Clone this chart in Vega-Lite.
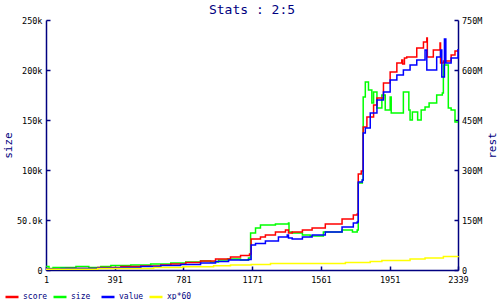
{
  "$schema": "https://vega.github.io/schema/vega-lite/v6.json",
  "autosize": {"type": "none"},
  "padding": {"left": 46, "top": 20, "right": 42, "bottom": 30},
  "width": 412,
  "height": 250,
  "background": "#ffffff",
  "title": {"text": "Stats : 2:5", "color": "#000080", "fontSize": 13, "font": "DejaVu Sans Mono", "fontWeight": "normal", "offset": 6, "dy": 7, "anchor": "middle"},
  "config": {
    "view": {"stroke": null},
    "font": "DejaVu Sans Mono",
    "axis": {"grid": false, "domainColor": "#000080", "domainWidth": 1.5, "tickColor": "#000080", "tickWidth": 1.5, "tickSize": -4, "labelColor": "#000000", "labelFont": "DejaVu Sans Mono", "labelFontSize": 8.5, "labelFlush": false, "labelOverlap": false, "titleFont": "DejaVu Sans Mono", "titleFontSize": 11, "titleFontWeight": "normal", "titleColor": "#000080"},
    "legend": {"orient": "none", "legendX": -42, "legendY": 269, "direction": "horizontal", "columns": 4, "gridAlign": "all", "symbolType": "stroke", "symbolStrokeWidth": 2.5, "symbolSize": 169, "labelFont": "DejaVu Sans Mono", "labelFontSize": 8, "labelColor": "#000080", "labelOffset": 3, "columnPadding": 0, "padding": 0}
  },
  "data": {"values": [
    {"s": "score", "x": 1, "v": 3000000},
    {"s": "score", "x": 114, "v": 4500000},
    {"s": "score", "x": 295, "v": 7500000},
    {"s": "score", "x": 426, "v": 10500000},
    {"s": "score", "x": 539, "v": 12000000},
    {"s": "score", "x": 652, "v": 15000000},
    {"s": "score", "x": 709, "v": 18000000},
    {"s": "score", "x": 794, "v": 22500000},
    {"s": "score", "x": 878, "v": 27000000},
    {"s": "score", "x": 963, "v": 33000000},
    {"s": "score", "x": 1048, "v": 39000000},
    {"s": "score", "x": 1105, "v": 43500000},
    {"s": "score", "x": 1156, "v": 48000000},
    {"s": "score", "x": 1165, "v": 93000000},
    {"s": "score", "x": 1218, "v": 99000000},
    {"s": "score", "x": 1246, "v": 105000000},
    {"s": "score", "x": 1303, "v": 114000000},
    {"s": "score", "x": 1360, "v": 120000000},
    {"s": "score", "x": 1377, "v": 111000000},
    {"s": "score", "x": 1398, "v": 114000000},
    {"s": "score", "x": 1456, "v": 120000000},
    {"s": "score", "x": 1511, "v": 126000000},
    {"s": "score", "x": 1586, "v": 138000000},
    {"s": "score", "x": 1681, "v": 153000000},
    {"s": "score", "x": 1745, "v": 165000000},
    {"s": "score", "x": 1767, "v": 168000000},
    {"s": "score", "x": 1773, "v": 288000000},
    {"s": "score", "x": 1790, "v": 297000000},
    {"s": "score", "x": 1801, "v": 429000000},
    {"s": "score", "x": 1822, "v": 459000000},
    {"s": "score", "x": 1860, "v": 495000000},
    {"s": "score", "x": 1879, "v": 516000000},
    {"s": "score", "x": 1916, "v": 561000000},
    {"s": "score", "x": 1954, "v": 594000000},
    {"s": "score", "x": 1992, "v": 621000000},
    {"s": "score", "x": 2020, "v": 630000000},
    {"s": "score", "x": 2025, "v": 618000000},
    {"s": "score", "x": 2035, "v": 636000000},
    {"s": "score", "x": 2048, "v": 639000000},
    {"s": "score", "x": 2105, "v": 666000000},
    {"s": "score", "x": 2143, "v": 684000000},
    {"s": "score", "x": 2162, "v": 696000000},
    {"s": "score", "x": 2165, "v": 639000000},
    {"s": "score", "x": 2199, "v": 660000000},
    {"s": "score", "x": 2237, "v": 681000000},
    {"s": "score", "x": 2240, "v": 621000000},
    {"s": "score", "x": 2256, "v": 627000000},
    {"s": "score", "x": 2300, "v": 645000000},
    {"s": "score", "x": 2322, "v": 657000000},
    {"s": "score", "x": 2339, "v": 654000000},
    {"s": "size", "x": 1, "v": 3500},
    {"s": "size", "x": 18, "v": 1500},
    {"s": "size", "x": 41, "v": 2500},
    {"s": "size", "x": 171, "v": 3500},
    {"s": "size", "x": 244, "v": 2500},
    {"s": "size", "x": 312, "v": 3500},
    {"s": "size", "x": 369, "v": 4500},
    {"s": "size", "x": 482, "v": 5000},
    {"s": "size", "x": 595, "v": 6000},
    {"s": "size", "x": 709, "v": 7000},
    {"s": "size", "x": 794, "v": 8000},
    {"s": "size", "x": 878, "v": 9000},
    {"s": "size", "x": 935, "v": 8000},
    {"s": "size", "x": 980, "v": 10000},
    {"s": "size", "x": 1031, "v": 11000},
    {"s": "size", "x": 1105, "v": 10000},
    {"s": "size", "x": 1150, "v": 12000},
    {"s": "size", "x": 1162, "v": 37000},
    {"s": "size", "x": 1190, "v": 42000},
    {"s": "size", "x": 1218, "v": 45000},
    {"s": "size", "x": 1303, "v": 46000},
    {"s": "size", "x": 1377, "v": 47000},
    {"s": "size", "x": 1380, "v": 38000},
    {"s": "size", "x": 1398, "v": 37000},
    {"s": "size", "x": 1456, "v": 35000},
    {"s": "size", "x": 1500, "v": 34000},
    {"s": "size", "x": 1575, "v": 38000},
    {"s": "size", "x": 1681, "v": 40000},
    {"s": "size", "x": 1740, "v": 38000},
    {"s": "size", "x": 1767, "v": 40000},
    {"s": "size", "x": 1773, "v": 87000},
    {"s": "size", "x": 1796, "v": 90000},
    {"s": "size", "x": 1801, "v": 173000},
    {"s": "size", "x": 1813, "v": 188000},
    {"s": "size", "x": 1831, "v": 180000},
    {"s": "size", "x": 1850, "v": 167000},
    {"s": "size", "x": 1860, "v": 178000},
    {"s": "size", "x": 1879, "v": 162000},
    {"s": "size", "x": 1907, "v": 175000},
    {"s": "size", "x": 1926, "v": 160000},
    {"s": "size", "x": 1954, "v": 173000},
    {"s": "size", "x": 1960, "v": 157000},
    {"s": "size", "x": 2020, "v": 157000},
    {"s": "size", "x": 2029, "v": 178000},
    {"s": "size", "x": 2058, "v": 178000},
    {"s": "size", "x": 2060, "v": 160000},
    {"s": "size", "x": 2067, "v": 150000},
    {"s": "size", "x": 2080, "v": 158000},
    {"s": "size", "x": 2110, "v": 150000},
    {"s": "size", "x": 2130, "v": 160000},
    {"s": "size", "x": 2152, "v": 163000},
    {"s": "size", "x": 2175, "v": 167000},
    {"s": "size", "x": 2218, "v": 175000},
    {"s": "size", "x": 2250, "v": 177000},
    {"s": "size", "x": 2256, "v": 205000},
    {"s": "size", "x": 2284, "v": 162000},
    {"s": "size", "x": 2300, "v": 160000},
    {"s": "size", "x": 2322, "v": 148000},
    {"s": "size", "x": 2339, "v": 148000},
    {"s": "value", "x": 1, "v": 3000000},
    {"s": "value", "x": 86, "v": 4500000},
    {"s": "value", "x": 295, "v": 6000000},
    {"s": "value", "x": 426, "v": 7500000},
    {"s": "value", "x": 539, "v": 10500000},
    {"s": "value", "x": 652, "v": 13500000},
    {"s": "value", "x": 765, "v": 16500000},
    {"s": "value", "x": 878, "v": 21000000},
    {"s": "value", "x": 963, "v": 25500000},
    {"s": "value", "x": 1037, "v": 30000000},
    {"s": "value", "x": 1150, "v": 31500000},
    {"s": "value", "x": 1165, "v": 75000000},
    {"s": "value", "x": 1190, "v": 79500000},
    {"s": "value", "x": 1246, "v": 87000000},
    {"s": "value", "x": 1320, "v": 99000000},
    {"s": "value", "x": 1370, "v": 105000000},
    {"s": "value", "x": 1377, "v": 96000000},
    {"s": "value", "x": 1398, "v": 93000000},
    {"s": "value", "x": 1456, "v": 99000000},
    {"s": "value", "x": 1511, "v": 105000000},
    {"s": "value", "x": 1586, "v": 114000000},
    {"s": "value", "x": 1681, "v": 129000000},
    {"s": "value", "x": 1745, "v": 141000000},
    {"s": "value", "x": 1767, "v": 144000000},
    {"s": "value", "x": 1773, "v": 264000000},
    {"s": "value", "x": 1796, "v": 270000000},
    {"s": "value", "x": 1801, "v": 411000000},
    {"s": "value", "x": 1813, "v": 426000000},
    {"s": "value", "x": 1841, "v": 471000000},
    {"s": "value", "x": 1879, "v": 510000000},
    {"s": "value", "x": 1916, "v": 534000000},
    {"s": "value", "x": 1954, "v": 570000000},
    {"s": "value", "x": 1992, "v": 585000000},
    {"s": "value", "x": 2029, "v": 600000000},
    {"s": "value", "x": 2067, "v": 615000000},
    {"s": "value", "x": 2105, "v": 630000000},
    {"s": "value", "x": 2152, "v": 660000000},
    {"s": "value", "x": 2162, "v": 600000000},
    {"s": "value", "x": 2218, "v": 639000000},
    {"s": "value", "x": 2240, "v": 660000000},
    {"s": "value", "x": 2247, "v": 579000000},
    {"s": "value", "x": 2262, "v": 693000000},
    {"s": "value", "x": 2270, "v": 621000000},
    {"s": "value", "x": 2300, "v": 636000000},
    {"s": "value", "x": 2339, "v": 663000000},
    {"s": "xp*60", "x": 1, "v": 2100000},
    {"s": "xp*60", "x": 295, "v": 4500000},
    {"s": "xp*60", "x": 612, "v": 7500000},
    {"s": "xp*60", "x": 777, "v": 9900000},
    {"s": "xp*60", "x": 952, "v": 12900000},
    {"s": "xp*60", "x": 1048, "v": 15000000},
    {"s": "xp*60", "x": 1165, "v": 16500000},
    {"s": "xp*60", "x": 1275, "v": 19500000},
    {"s": "xp*60", "x": 1700, "v": 22500000},
    {"s": "xp*60", "x": 1841, "v": 25500000},
    {"s": "xp*60", "x": 1907, "v": 28500000},
    {"s": "xp*60", "x": 2067, "v": 33000000},
    {"s": "xp*60", "x": 2152, "v": 36000000},
    {"s": "xp*60", "x": 2256, "v": 40500000},
    {"s": "xp*60", "x": 2339, "v": 42000000}
  ]},
  "encoding": {
    "x": {"field": "x", "type": "quantitative", "scale": {"domain": [1, 2339], "nice": false, "zero": false},
      "axis": {"title": null, "values": [1, 391, 781, 1171, 1561, 1951, 2339], "labelPadding": 9, "format": "d"}},
    "color": {"field": "s", "type": "nominal",
      "scale": {"domain": ["score", "size", "value", "xp*60"], "range": ["#ff0000", "#00ff00", "#0000ff", "#ffff00"]},
      "legend": {"title": null}}
  },
  "layer": [
    {
      "transform": [{"filter": "datum.s == 'size'"}],
      "mark": {"type": "line", "interpolate": "step-after", "strokeWidth": 1.5},
      "encoding": {
        "y": {"field": "v", "type": "quantitative", "scale": {"domain": [0, 250000], "nice": false},
          "axis": {"orient": "left", "title": "size", "values": [0, 50000, 100000, 150000, 200000, 250000], "labelExpr": "datum.value == 0 ? '0' : format(datum.value, '.3s')", "labelPadding": 8, "titleAngle": 270, "titleBaseline": "middle", "titleX": -38, "titleY": 125, "titleAlign": "center"}}
      }
    },
    {
      "transform": [{"filter": "datum.s != 'size'"}],
      "mark": {"type": "line", "interpolate": "step-after", "strokeWidth": 1.5},
      "encoding": {
        "y": {"field": "v", "type": "quantitative", "scale": {"domain": [0, 750000000], "nice": false},
          "axis": {"orient": "right", "title": "rest", "values": [0, 150000000, 300000000, 450000000, 600000000, 750000000], "labelExpr": "datum.value == 0 ? '0' : format(datum.value, '.3s')", "labelPadding": 7.5, "titleAngle": 270, "titleBaseline": "middle", "titleX": 34, "titleY": 125, "titleAlign": "center"}}
      }
    }
  ],
  "resolve": {"scale": {"y": "independent"}}
}
